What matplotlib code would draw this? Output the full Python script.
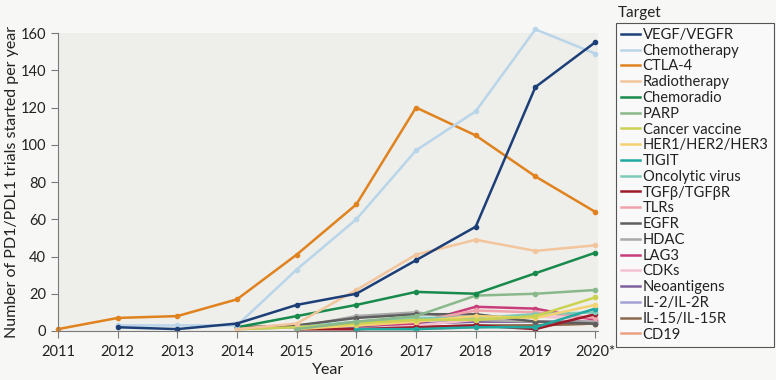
import matplotlib.pyplot as plt
from matplotlib.lines import Line2D

plt.rcParams['font.family'] = ['Lato', 'DejaVu Sans']

years = [2011, 2012, 2013, 2014, 2015, 2016, 2017, 2018, 2019, 2020]
year_labels = ['2011', '2012', '2013', '2014', '2015', '2016', '2017', '2018', '2019', '2020*']

# each series: (start year, values)
vegf = (2012, [2, 1, 4, 14, 20, 38, 56, 131, 155])
chemotherapy = (2012, [3, 3, 3, 33, 60, 97, 118, 162, 149])
ctla4 = (2011, [1, 7, 8, 17, 41, 68, 120, 105, 83, 64])
radiotherapy = (2014, [1, 4, 22, 41, 49, 43, 46])
chemoradio = (2014, [2, 8, 14, 21, 20, 31, 42])
parp = (2015, [1, 5, 8, 19, 20, 22])
cancer_vaccine = (2014, [1, 2, 4, 6, 6, 8, 18])
her = (2015, [1, 3, 5, 8, 7, 14])
tigit = (2016, [1, 1, 2, 2, 12])
oncolytic = (2015, [2, 5, 7, 7, 9, 10])
tgfb = (2015, [1, 1, 2, 3, 1, 9])
tlrs = (2015, [2, 3, 5, 11, 10, 7])
egfr = (2014, [2, 3, 7, 9, 9, 5, 4])
hdac = (2014, [1, 2, 8, 10, 6, 5, 5])
lag3 = (2015, [1, 3, 4, 13, 12, 6])
cdks = (2016, [1, 3, 6, 8, 6])
neoantigens = (2015, [1, 2, 4, 5, 5, 5])
il2 = (2014, [2, 2, 3, 6, 6, 5, 5])
il15 = (2015, [1, 1, 2, 3, 3, 4])
cd19 = (2016, [1, 1, 2, 3, 4])

names = ['VEGF/VEGFR', 'Chemotherapy', 'CTLA-4', 'Radiotherapy', 'Chemoradio', 'PARP',
         'Cancer vaccine', 'HER1/HER2/HER3', 'TIGIT', 'Oncolytic virus', 'TGFβ/TGFβR',
         'TLRs', 'EGFR', 'HDAC', 'LAG3', 'CDKs', 'Neoantigens', 'IL-2/IL-2R',
         'IL-15/IL-15R', 'CD19']
series = [vegf, chemotherapy, ctla4, radiotherapy, chemoradio, parp, cancer_vaccine, her,
          tigit, oncolytic, tgfb, tlrs, egfr, hdac, lag3, cdks, neoantigens, il2, il15, cd19]
colors = ['#1c3f78', '#b9d5e9', '#e0821e', '#f3c59c', '#178a4c', '#89b98a', '#cbd150',
          '#f4d271', '#1fa9a0', '#7ccab9', '#9e1a2a', '#f0a3aa', '#5f5f5f', '#a9a9a9',
          '#c93c7a', '#f5c2d2', '#7f5fa0', '#a2a2d4', '#8a6a4e', '#e9a283']

fig = plt.figure(figsize=(7.76, 3.8), dpi=100, facecolor='#f7f7f6')
ax = fig.add_axes([0.0747, 0.129, 0.696, 0.784])
ax.set_facecolor('#eeeeea')

for name, (start, vals), c in reversed(list(zip(names, series, colors))):
    xs = years[years.index(start):years.index(start) + len(vals)]
    ax.plot(xs, vals, color=c, lw=1.8, marker='o', ms=3, label=name, clip_on=False)

ax.set_xlim(2011, 2020.05)
ax.set_ylim(0, 160)
ax.set_xticks(years)
ax.set_xticklabels(year_labels)
ax.set_yticks(range(0, 161, 20))
for s in ['top', 'right']:
    ax.spines[s].set_visible(False)
for s in ['left', 'bottom']:
    ax.spines[s].set_color('#7a7a7a')
    ax.spines[s].set_linewidth(0.8)
ax.tick_params(colors='#7a7a7a', labelcolor='#222222', labelsize=10.5, length=5, width=0.8)
ax.tick_params(axis='x', pad=5)
ax.set_xlabel('Year', fontsize=11.5, color='#222222', labelpad=3)
ax.set_ylabel('Number of PD1/PDL1 trials started per year', fontsize=11.5, color='#222222', labelpad=1)

handles = [Line2D([], [], color=c, lw=1.8) for c in colors]
leg = fig.legend(handles, names, loc='upper left', bbox_to_anchor=(0.794, 0.94),
                 fontsize=10.6, frameon=True, fancybox=False, edgecolor='#555555',
                 facecolor='#f9f9f9', framealpha=1, labelspacing=0.12, handlelength=1.25,
                 handletextpad=0.2, borderpad=0.35, borderaxespad=0)
leg.get_frame().set_linewidth(0.8)
for t in leg.get_texts():
    t.set_color('#222222')
fig.text(0.796, 0.955, 'Target', fontsize=11, color='#222222', va='baseline')

fig.savefig('out.png', dpi=100, facecolor=fig.get_facecolor())
